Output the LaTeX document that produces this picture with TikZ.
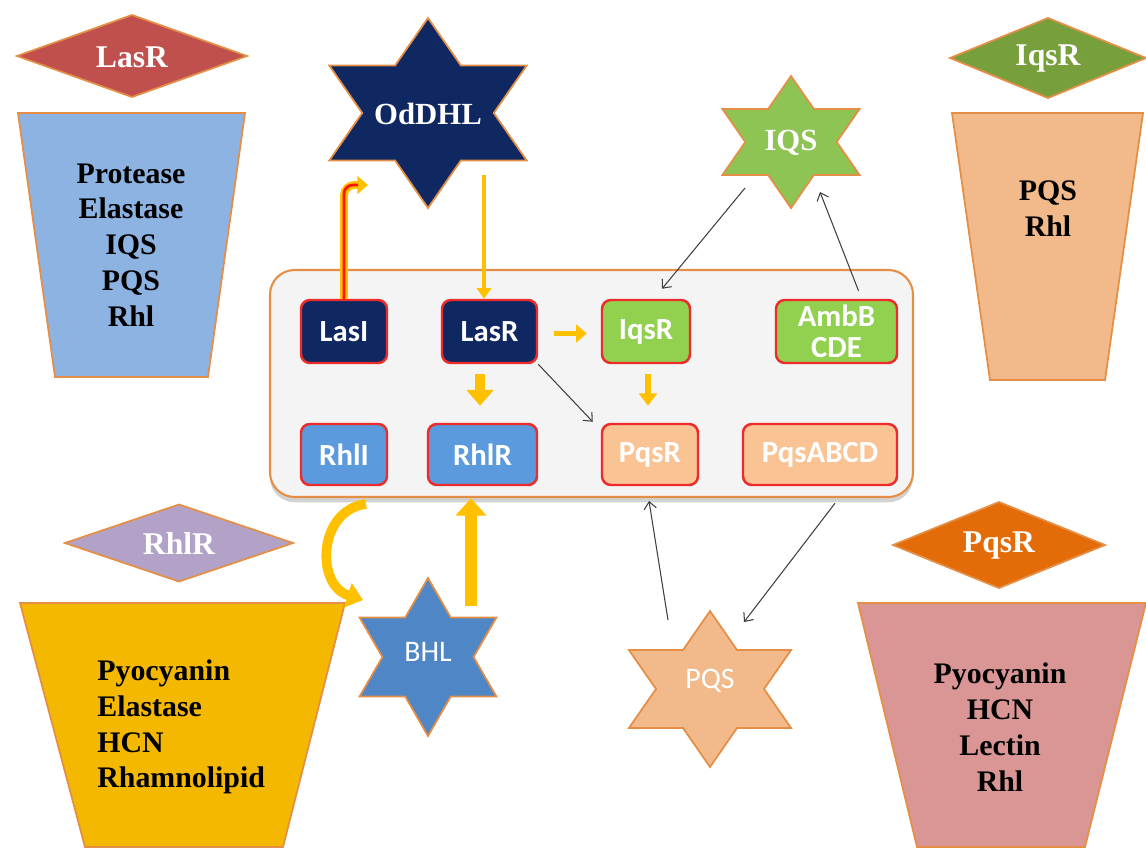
\documentclass[tikz,border=0pt]{standalone}
\usepackage{fontspec}
\setmainfont{Liberation Serif}
\newfontfamily\calibri{Carlito}
\usetikzlibrary{arrows.meta,shadows,calc}
\definecolor{edgeor}{HTML}{E58E45}
\definecolor{boxred}{HTML}{EE2B2B}
\definecolor{navy}{HTML}{0F2862}
\definecolor{gold}{HTML}{FFC000}
\definecolor{grayline}{HTML}{404040}
\definecolor{lasrd}{HTML}{C0504D}
\definecolor{iqsrd}{HTML}{77A03C}
\definecolor{rhlrd}{HTML}{B3A2C7}
\definecolor{pqsrd}{HTML}{E36C09}
\definecolor{trblue}{HTML}{8DB3E2}
\definecolor{trpeach}{HTML}{F2B98A}
\definecolor{trgold}{HTML}{F4B800}
\definecolor{trpink}{HTML}{D99694}
\definecolor{bxgreen}{HTML}{92D050}
\definecolor{bxblue}{HTML}{5B9BDD}
\definecolor{bxpeach}{HTML}{F9C393}
\definecolor{stgreen}{HTML}{8DC453}
\definecolor{stblue}{HTML}{4F86C6}
\definecolor{stpeach}{HTML}{F2BA8A}
\definecolor{contfill}{HTML}{F4F4F4}
\newcommand\hexstar[5]{%
  \draw[shapeline, fill=#5, shift={(#1,#2)}, xscale=#4]
  (90:#3) -- (120:{0.577*#3}) -- (150:#3) -- (180:{0.577*#3}) -- (210:#3) --
  (240:{0.577*#3}) -- (270:#3) -- (300:{0.577*#3}) -- (330:#3) --
  (0:{0.577*#3}) -- (30:#3) -- (60:{0.577*#3}) -- cycle;}
\newcommand\dmd[5]{%
  \draw[shapeline, fill=#5] ({#1-#3/2},#2) -- (#1,{#2-#4/2}) -- ({#1+#3/2},#2) -- (#1,{#2+#4/2}) -- cycle;}
\newcommand\trap[7]{%
  \draw[shapeline, fill=#7] (#2,#1) -- (#3,#1) -- (#6,#4) -- (#5,#4) -- cycle;}
\begin{document}
\begin{tikzpicture}[x=0.02cm,y=-0.02cm,
  shapeline/.style={draw=edgeor, line width=1pt, line join=miter},
  dlabel/.style={text=white, font=\bfseries\fontsize{18}{20}\selectfont, inner sep=0pt},
  trtext/.style={font=\bfseries\fontsize{17}{20.4}\selectfont, inner sep=0pt},
  stserif/.style={text=white, font=\bfseries\fontsize{17.5}{20}\selectfont, inner sep=0pt},
  stsans/.style={text=white, font=\calibri\fontsize{17}{18}\selectfont, inner sep=0pt},
  qbox/.style={draw=boxred, line width=1.4pt, rounded corners=5pt, text=white,
    font=\calibri\bfseries\fontsize{17.5}{18}\selectfont, align=center, inner sep=0pt},
  sz/.style 2 args={minimum width=#1*0.02cm, minimum height=#2*0.02cm},
  thin/.style={draw=grayline, line width=0.6pt, -{Straight Barb[length=4pt,width=7pt]}},
]
\useasboundingbox[fill=white] (0,0) rectangle (1146,852);

% ---- side diamonds and trapezoids ----
\dmd{132}{56}{230}{82}{lasrd}
\node[dlabel] (dlasr) at (132,57) {LasR};
\trap{113}{18}{245}{377}{55}{208}{trblue}
\node[trtext, align=center] (tlasr) at (131,245) {Protease\\Elastase\\IQS\\PQS\\Rhl};

\dmd{1048}{58}{196}{80}{iqsrd}
\node[dlabel] (diqsr) at (1048,59) {IqsR};
\trap{113}{952}{1143}{380}{990}{1105}{trpeach}
\node[trtext, align=center] (tiqsr) at (1048,209) {PQS\\Rhl};

\dmd{179}{543}{228}{77}{rhlrd}
\node[dlabel] (drhlr) at (179,544) {RhlR};
\trap{603}{20}{345}{847}{85}{283}{trgold}
\node[trtext, align=left, anchor=west] (trhlr) at (97,727) {Pyocyanin\\Elastase\\HCN\\Rhamnolipid};

\dmd{999}{545}{212}{86}{pqsrd}
\node[dlabel] (dpqsr) at (999,546) {PqsR};
\trap{603}{858}{1146}{847}{917}{1085}{trpink}
\node[trtext, align=center] (tpqsr) at (1000,727) {Pyocyanin\\HCN\\Lectin\\Rhl};

% ---- stars ----
\hexstar{428}{113}{95}{1.2}{navy}
\node[stserif] (oddhl) at (428,114) {OdDHL};
\hexstar{791}{142}{66}{1.2}{stgreen}
\node[stserif] (iqs) at (791,143) {IQS};
\hexstar{428}{657}{79}{1.0}{stblue}
\node[stsans] (bhl) at (428,652) {BHL};
\hexstar{710}{689}{78}{1.2}{stpeach}
\node[stsans] (pqs) at (710,681) {PQS};

% ---- central container ----
\node[draw=edgeor, line width=1.2pt, fill=contfill, rounded corners=14pt, sz={643}{227},
  drop shadow={shadow xshift=0pt, shadow yshift=-3pt, opacity=0.35}] (qs) at (591.5,383.5) {};

\node[qbox, fill=navy, sz={86}{63}] (lasi) at (344,331.5) {LasI};
\node[qbox, fill=navy, sz={95}{63}] (lasr) at (489.5,331.5) {LasR};
\node[qbox, fill=bxgreen, sz={88}{63}] (iqsr) at (646,331.5) {IqsR};
\node[qbox, fill=bxgreen, sz={121}{63}] (ambb) at (836.5,331.5) {AmbB\\CDE};
\node[qbox, fill=bxblue, sz={86}{61}] (rhli) at (344,454.5) {RhlI};
\node[qbox, fill=bxblue, sz={109}{61}] (rhlr) at (482.5,454.5) {RhlR};
\node[qbox, fill=bxpeach, sz={96}{61}] (pqsr) at (650,454.5) {PqsR};
\node[qbox, fill=bxpeach, sz={154}{61}] (pqsabcd) at (820,454.5) {PqsABCD};

% ---- free ends ----
\coordinate (odin) at (368,185);
\coordinate (odout) at (484,175);
\coordinate (iqsout) at (745,188);
\coordinate (iqsin) at (820,192);
\coordinate (pqsout) at (668,620);
\coordinate (pqsrin) at (649,501);
\coordinate (pqsin) at (744,622);
\coordinate (bhlout) at (471,606);
\coordinate (bhlin) at (363,600);
\coordinate (rhlout) at (366,504);

% ---- yellow arrows ----
\draw[gold, line width=4.5pt, rounded corners=6pt, -{Triangle[width=10pt,length=6pt]}]
  (lasi.north) |- (odin);
\draw[red!85!orange, line width=1.6pt, rounded corners=5pt]
  (lasi.north) |- ($(odin)+(-10,0)$);
\draw[gold, line width=2.3pt, -{Triangle[width=8pt,length=6pt]}]
  (odout) -- (odout |- lasr.north);
\draw[gold, line width=3.4pt, -{Triangle[width=10pt,length=6pt]}]
  ($(lasr.east)+(16,2)$) -- ($(iqsr.west)+(-14,2)$);
\draw[gold, line width=5.5pt, -{Triangle[width=15pt,length=9pt]}]
  ($(lasr.south)+(-9.5,10)$) -- ($(rhlr.north)+(-2.5,-17)$);
\draw[gold, line width=3.4pt, -{Triangle[width=10pt,length=7pt]}]
  ($(iqsr.south)+(2,10)$) -- ($(pqsr.north)+(-2,-17)$);
\draw[gold, line width=6.8pt, -{Triangle[width=17pt,length=10pt]}]
  (bhlout) -- (bhlout |- qs.south);
\draw[gold, line width=5.5pt, -{Triangle[width=14pt,length=9pt]}]
  (rhlout) .. controls (318,510) and (315,585) .. (bhlin);

% ---- thin arrows ----
\draw[thin] (lasr.south east) -- ($(pqsr.north west)+(-8,-1)$);
\draw[thin] (iqsout) -- ($(iqsr.north)+(16,-10)$);
\draw[thin] ($(ambb.north)+(22,-8)$) -- (iqsin);
\draw[thin] (pqsout) -- (pqsrin);
\draw[thin] ($(pqsabcd.south)+(15,17)$) -- (pqsin);
\end{tikzpicture}
\end{document}
